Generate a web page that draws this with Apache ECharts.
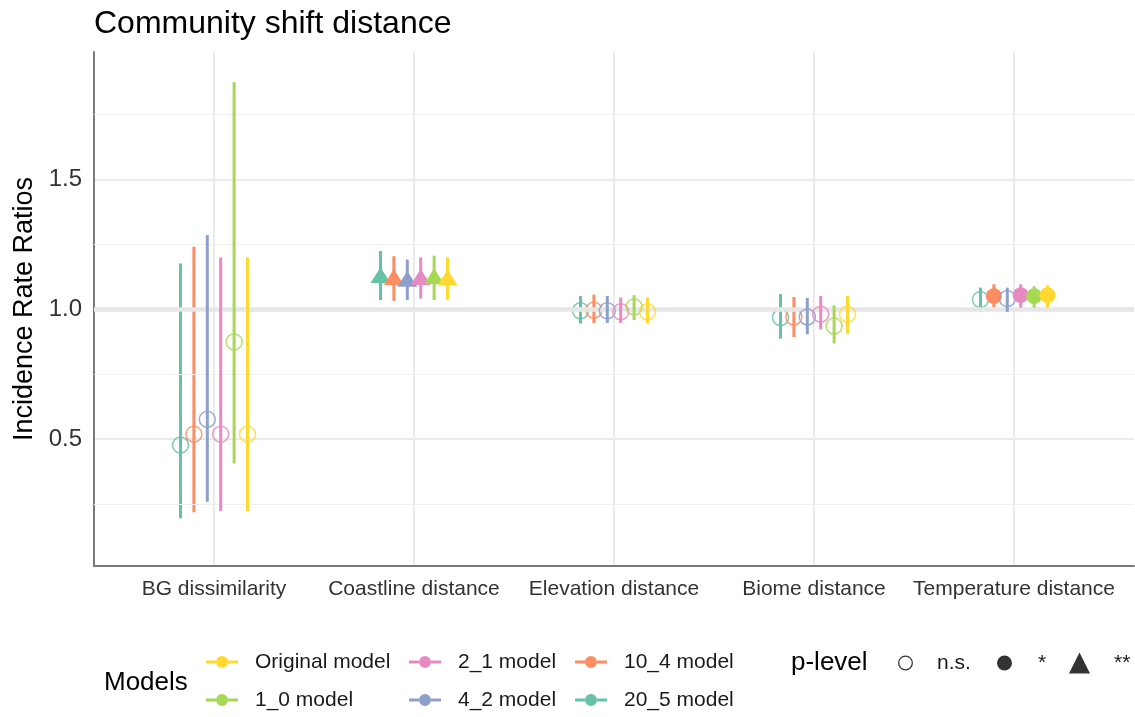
<!DOCTYPE html>
<html>
<head>
<meta charset="utf-8">
<script src="https://cdn.jsdelivr.net/npm/echarts@6/dist/echarts.min.js"></script>
<style>
  html, body { margin: 0; padding: 0; background: #ffffff; }
  #chart { width: 1135px; height: 717px; }
</style>
</head>
<body>
<div id="chart"></div>
<script>
// Predictors on the x axis
const categories = ['BG dissimilarity', 'Coastline distance', 'Elevation distance', 'Biome distance', 'Temperature distance'];

// Models as listed in the legend (column-major: Original/1_0, 2_1/4_2, 10_4/20_5)
const models = ['Original model', '1_0 model', '2_1 model', '4_2 model', '10_4 model', '20_5 model'];
const modelColors = ['#FFD92F', '#A6D854', '#E78AC3', '#8DA0CB', '#FC8D62', '#66C2A5'];

// Left-to-right dodge order within each predictor
const dodgeOrder = ['20_5 model', '10_4 model', '4_2 model', '2_1 model', '1_0 model', 'Original model'];

// Significance classes and their legend labels
const pLevels = ['n.s.', '*', '**'];

// Incidence rate ratios (estimate, lower CI, upper CI, p-level) per model
const irrOriginal  = [0.519, 1.112, 0.990, 0.981, 1.054];
const lowOriginal  = [0.223, 1.037, 0.945, 0.906, 1.006];
const highOriginal = [1.199, 1.199, 1.045, 1.051, 1.092];
const pOriginal    = ['n.s.', '**', 'n.s.', 'n.s.', '*'];

const irr1_0  = [0.874, 1.117, 1.009, 0.935, 1.050];
const low1_0  = [0.406, 1.035, 0.958, 0.868, 1.006];
const high1_0 = [1.874, 1.206, 1.054, 1.015, 1.088];
const p1_0    = ['n.s.', '**', 'n.s.', 'n.s.', '*'];

const irr2_1  = [0.519, 1.114, 0.990, 0.981, 1.054];
const low2_1  = [0.223, 1.041, 0.947, 0.922, 1.006];
const high2_1 = [1.199, 1.199, 1.045, 1.051, 1.096];
const p2_1    = ['n.s.', '**', 'n.s.', 'n.s.', '*'];

const irr4_2  = [0.576, 1.107, 0.994, 0.970, 1.041];
const low4_2  = [0.259, 1.035, 0.947, 0.904, 0.990];
const high4_2 = [1.286, 1.191, 1.051, 1.043, 1.083];
const p4_2    = ['n.s.', '**', 'n.s.', 'n.s.', 'n.s.'];

const irr10_4  = [0.519, 1.114, 0.996, 0.970, 1.050];
const low10_4  = [0.218, 1.032, 0.947, 0.893, 1.006];
const high10_4 = [1.240, 1.204, 1.056, 1.047, 1.096];
const p10_4    = ['n.s.', '**', 'n.s.', 'n.s.', '*'];

const irr20_5  = [0.477, 1.121, 0.994, 0.968, 1.037];
const low20_5  = [0.195, 1.035, 0.945, 0.887, 0.990];
const high20_5 = [1.176, 1.224, 1.051, 1.058, 1.083];
const p20_5    = ['n.s.', '**', 'n.s.', 'n.s.', 'n.s.'];

// Gridlines between the labelled ticks, and the no-effect reference at IRR = 1
const minorGrid = [0.25, 0.75, 1.25, 1.75];
const refLine = 1.0;

const modelData = {
  'Original model': [irrOriginal, lowOriginal, highOriginal, pOriginal],
  '1_0 model': [irr1_0, low1_0, high1_0, p1_0],
  '2_1 model': [irr2_1, low2_1, high2_1, p2_1],
  '4_2 model': [irr4_2, low4_2, high4_2, p4_2],
  '10_4 model': [irr10_4, low10_4, high10_4, p10_4],
  '20_5 model': [irr20_5, low20_5, high20_5, p20_5]
};

const FONT = '"Liberation Sans", Arial, sans-serif';
const DODGE = 0.067;

// Point-range: vertical CI line plus a marker whose shape encodes the p-level
function renderPointRange(params, api) {
  const x = api.value(0);
  const c = api.coord([x, api.value(1)]);
  const lo = api.coord([x, api.value(2)]);
  const hi = api.coord([x, api.value(3)]);
  const level = api.value(4);
  const color = api.visual('color');
  const children = [{
    type: 'line',
    shape: { x1: lo[0], y1: lo[1], x2: hi[0], y2: hi[1] },
    style: { stroke: color, lineWidth: 3 }
  }];
  if (level === 0) {
    children.push({
      type: 'circle',
      shape: { cx: c[0], cy: c[1], r: 8 },
      style: { fill: null, stroke: color, lineWidth: 1.5, opacity: 0.85 }
    });
  } else if (level === 1) {
    children.push({
      type: 'circle',
      shape: { cx: c[0], cy: c[1], r: 8 },
      style: { fill: color }
    });
  } else {
    children.push({
      type: 'polygon',
      shape: { points: [[c[0], c[1] - 10.5], [c[0] + 10, c[1] + 5.3], [c[0] - 10, c[1] + 5.3]] },
      style: { fill: color }
    });
  }
  return { type: 'group', children: children };
}

const series = dodgeOrder.map(function (name, i) {
  const d = modelData[name];
  const offset = (i - 2.5) * DODGE;
  return {
    name: name,
    type: 'custom',
    renderItem: renderPointRange,
    itemStyle: { color: modelColors[models.indexOf(name)] },
    encode: { x: 0, y: [1, 2, 3] },
    data: categories.map(function (_, k) {
      return [k + offset, d[0][k], d[1][k], d[2][k], pLevels.indexOf(d[3][k])];
    }),
    z: 3 + i
  };
});

// Background reference lines
series.unshift({
  name: 'grid',
  type: 'line',
  data: [],
  silent: true,
  markLine: {
    silent: true,
    symbol: 'none',
    label: { show: false },
    data: minorGrid.map(function (v) {
      return { yAxis: v, lineStyle: { color: '#EFEFEF', width: 1, type: 'solid' } };
    }).concat([{ yAxis: refLine, lineStyle: { color: '#E6E6E6', width: 4.5, type: 'solid' } }])
  },
  z: 1
});

// Legend-only entries for the p-level shapes
pLevels.forEach(function (lv) {
  series.push({ name: lv, type: 'scatter', data: [], itemStyle: { color: '#000000' } });
});

const keyIcon = 'path://M0,6.5L10,6.5L10,9.5L0,9.5Z M22,6.5L32,6.5L32,9.5L22,9.5Z M10,8A6,6,0,1,1,22,8A6,6,0,1,1,10,8Z';
const ringIcon = 'path://M0,8A8,8,0,1,1,16,8A8,8,0,1,1,0,8Z M1.4,8A6.6,6.6,0,1,0,14.6,8A6.6,6.6,0,1,0,1.4,8Z';

function modelLegend(names, left) {
  return {
    orient: 'vertical',
    left: left,
    top: 650,
    itemWidth: 32,
    itemHeight: 16,
    itemGap: 14,
    selectedMode: false,
    icon: keyIcon,
    padding: 0,
    data: names,
    textStyle: { fontFamily: FONT, fontSize: 21, color: '#1a1a1a', lineHeight: 24, padding: [0, 0, 0, 12] }
  };
}

function levelLegend(name, icon, left, w, pad) {
  return {
    left: left,
    top: 651,
    itemWidth: w,
    itemHeight: w,
    selectedMode: false,
    padding: 0,
    data: [{ name: name, icon: icon, itemStyle: { color: '#000000' } }],
    textStyle: { fontFamily: FONT, fontSize: 21, color: '#1a1a1a', lineHeight: 24, padding: [0, 0, 0, pad] }
  };
}

const option = {
  animation: false,
  backgroundColor: '#ffffff',
  textStyle: { fontFamily: FONT },
  title: [
    { text: 'Community shift distance', left: 94, top: 8, padding: 0,
      textStyle: { fontFamily: FONT, fontSize: 32, fontWeight: 'normal', color: '#000000' } },
    { text: 'Models', left: 104, top: 670, padding: 0,
      textStyle: { fontFamily: FONT, fontSize: 26, fontWeight: 'normal', color: '#000000' } },
    { text: 'p-level', left: 791, top: 650, padding: 0,
      textStyle: { fontFamily: FONT, fontSize: 26, fontWeight: 'normal', color: '#000000' } }
  ],
  legend: [
    modelLegend(['Original model', '1_0 model'], 206),
    modelLegend(['2_1 model', '4_2 model'], 409),
    modelLegend(['10_4 model', '20_5 model'], 575),
    levelLegend('n.s.', ringIcon, 898, 15, 19),
    levelLegend('*', 'circle', 997, 15, 21),
    levelLegend('**', 'triangle', 1069, 21, 19)
  ],
  grid: { left: 94, right: 1, top: 52, bottom: 151, containLabel: false },
  xAxis: {
    type: 'value',
    min: -0.6,
    max: 4.6,
    splitNumber: 5,
    axisLine: { show: true, onZero: false, lineStyle: { color: '#7a7a7a', width: 2 } },
    axisTick: { show: false },
    axisLabel: {
      showMinLabel: false,
      showMaxLabel: false,
      margin: 13,
      fontFamily: FONT,
      fontSize: 21,
      color: '#333333',
      formatter: function (v) {
        const k = Math.round(v);
        return Math.abs(v - k) < 1e-6 && categories[k] ? categories[k] : '';
      }
    },
    splitLine: { show: true, showMinLine: false, showMaxLine: false, lineStyle: { color: '#EBEBEB', width: 2 } }
  },
  yAxis: {
    type: 'value',
    min: 0.0115,
    max: 1.99,
    splitNumber: 4,
    name: 'Incidence Rate Ratios',
    nameLocation: 'middle',
    nameGap: 55,
    nameTextStyle: { fontFamily: FONT, fontSize: 27, color: '#000000' },
    axisLine: { show: true, onZero: false, lineStyle: { color: '#7a7a7a', width: 2 } },
    axisTick: { show: false },
    axisLabel: {
      showMinLabel: false,
      showMaxLabel: false,
      margin: 12,
      fontFamily: FONT,
      fontSize: 24,
      color: '#333333',
      formatter: function (v) { return v.toFixed(1); }
    },
    splitLine: { show: true, showMinLine: false, showMaxLine: false, lineStyle: { color: '#EBEBEB', width: 2 } }
  },
  series: series
};

const chart = echarts.init(document.getElementById('chart'), null, { renderer: 'canvas' });
chart.setOption(option);
</script>
</body>
</html>
